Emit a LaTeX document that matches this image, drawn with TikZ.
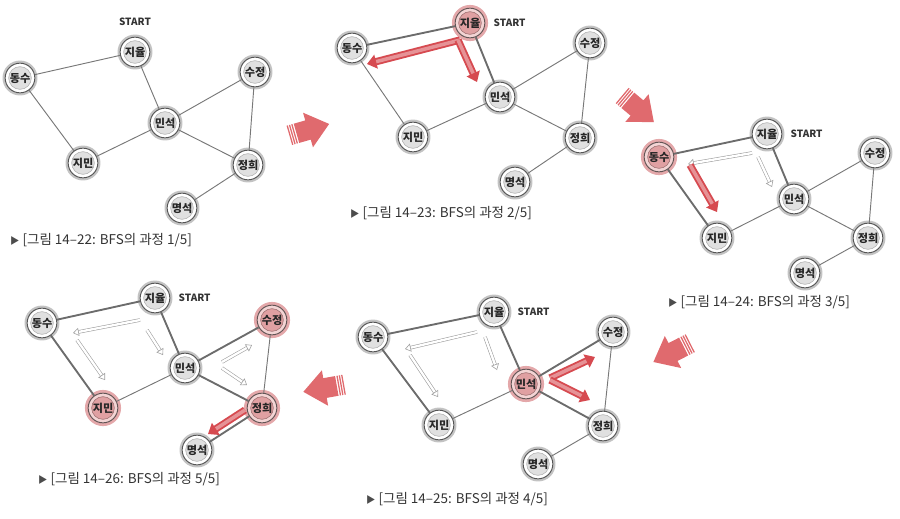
\documentclass[tikz,border=0pt]{standalone}
\usepackage{fontspec}
\setmainfont{Noto Sans CJK KR}
\usetikzlibrary{arrows.meta,calc,positioning}
\definecolor{ringgray}{RGB}{85,85,85}
\definecolor{halogray}{RGB}{195,195,195}
\definecolor{discgray}{RGB}{224,224,224}
\definecolor{discpink}{RGB}{224,160,162}
\definecolor{ringpink}{RGB}{243,212,212}
\definecolor{halopink}{RGB}{228,168,170}
\definecolor{linkgray}{RGB}{120,120,120}
\definecolor{walkred}{RGB}{214,74,80}
\definecolor{bigred}{RGB}{224,106,110}
\tikzset{
    person/.style={circle, draw=ringgray, line width=0.8pt, fill=white,
        minimum size=0.89cm, inner sep=0pt, text=black!85,
        font=\bfseries\fontsize{9.5}{10}\selectfont,
        disc=discgray, disc border=gray!60,
        preaction={draw=halogray, line width=4.5pt},
        path picture={\fill[\disccolor, draw=\discbordercolor, line width=0.5pt]
            (path picture bounding box.center) circle (0.34cm);}},
    disc/.store in=\disccolor,
    disc border/.store in=\discbordercolor,
    seen/.style={fill=ringpink, draw=ringpink!40!black, disc=discpink, disc border=discpink!70!black,
        preaction={draw=halopink, line width=5.5pt}},
    link/.style={draw=linkgray, line width=0.8pt},
    used/.style={draw=gray!85!black, line width=1.6pt},
    walk/.style={draw=walkred, double=walkred!60!white, line width=1.6pt, double distance=3pt,
        -{Triangle[length=8pt,width=12pt]}},
    trail/.style={draw=gray!75, double=white, line width=0.5pt, double distance=2pt,
        -{Triangle[open,length=5pt,width=7pt]}},
    startlabel/.style={font=\bfseries\fontsize{8.5}{9}\selectfont, text=black!80, inner sep=0pt},
    caption/.style={anchor=west, font=\fontsize{11.5}{12}\selectfont, text=black!80, inner sep=0pt},
    bigarrow/.pic={
        \fill[bigred] (-12,10) -- (0,10) -- (0,18) -- (22,0) -- (0,-18) -- (0,-10) -- (-12,-10) -- cycle;
        \foreach \k in {1,2,3}
            \fill[bigred] (-12.2-2.4*\k,10) rectangle ++(1.3,-20);
    }
}
\newcommand\tri{{\color{black!70}\fontsize{8}{9}\selectfont ▶}}
\begin{document}
\begin{tikzpicture}[x=0.03cm, y=-0.03cm]
    \useasboundingbox (0,0) rectangle (900,518);

    % 1/5
    \node[person] (a-jy) at (135,52) {지율};
    \node[person] (a-ds) at (20,78) {동수};
    \node[person] (a-sj) at (255,72) {수정};
    \node[person] (a-mn) at (165,123) {민석};
    \node[person] (a-jm) at (83,163) {지민};
    \node[person] (a-jh) at (248,165) {정희};
    \node[person] (a-my) at (182,208) {명석};
    \node[startlabel] (a-start) [above=9pt of a-jy] {START};
    \foreach \u/\v in {jy/ds,jy/mn,ds/jm,jm/mn,mn/sj,mn/jh,sj/jh,jh/my}
        \draw[link] (a-\u) -- (a-\v);
    \node[caption] (a-cap) at (10,240) {\tri\ [그림 14–22: BFS의 과정 1/5]};

    % 2/5
    \node[person,seen] (b-jy) at (470,23) {지율};
    \node[person] (b-ds) at (352,48) {동수};
    \node[person] (b-sj) at (590,43) {수정};
    \node[person] (b-mn) at (500,97) {민석};
    \node[person] (b-jm) at (413,137) {지민};
    \node[person] (b-jh) at (580,138) {정희};
    \node[person] (b-my) at (515,182) {명석};
    \node[startlabel,anchor=west] (b-start) [right=7pt of b-jy] {START};
    \foreach \u/\v/\s in {jy/ds/used,jy/mn/used,ds/jm/link,jm/mn/link,mn/sj/link,mn/jh/link,sj/jh/link,jh/my/link}
        \draw[\s] (b-\u) -- (b-\v);
    \draw[walk] ($(b-jy)+(-10,17)$) -- ($(b-ds)+(15,16)$);
    \draw[walk] ($(b-jy)+(-12,17)$) -- ($(b-mn)+(-23,-15)$);
    \node[caption] (b-cap) at (350,213) {\tri\ [그림 14–23: BFS의 과정 2/5]};

    % 3/5
    \node[person] (c-jy) at (767,134) {지율};
    \node[person,seen] (c-ds) at (659,157) {동수};
    \node[person] (c-sj) at (875,153) {수정};
    \node[person] (c-mn) at (794,199) {민석};
    \node[person] (c-jm) at (717,238) {지민};
    \node[person] (c-jh) at (868,238) {정희};
    \node[person] (c-my) at (805,273) {명석};
    \node[startlabel,anchor=west] (c-start) [right=7pt of c-jy] {START};
    \foreach \u/\v/\s in {jy/ds/used,jy/mn/used,ds/jm/used,jm/mn/link,mn/sj/link,mn/jh/link,sj/jh/link,jh/my/link}
        \draw[\s] (c-\u) -- (c-\v);
    \draw[trail] ($(c-jy)+(-15,19)$) -- ($(c-ds)+(29,7)$);
    \draw[trail] ($(c-jy)+(-9,23)$) -- ($(c-mn)+(-22,-12)$);
    \draw[walk] ($(c-ds)+(31,8)$) -- ($(c-jm)+(0,-26)$);
    \node[caption] (c-cap) at (668,302) {\tri\ [그림 14–24: BFS의 과정 3/5]};

    % 4/5
    \node[person] (e-jy) at (494,312) {지율};
    \node[person] (e-ds) at (373,337) {동수};
    \node[person] (e-sj) at (613,332) {수정};
    \node[person,seen] (e-mn) at (526,384) {민석};
    \node[person] (e-jm) at (439,425) {지민};
    \node[person] (e-jh) at (603,426) {정희};
    \node[person] (e-my) at (538,464) {명석};
    \node[startlabel,anchor=west] (e-start) [right=7pt of e-jy] {START};
    \foreach \u/\v/\s in {jy/ds/used,jy/mn/used,ds/jm/used,jm/mn/link,mn/sj/used,mn/jh/used,sj/jh/link,jh/my/link}
        \draw[\s] (e-\u) -- (e-\v);
    \draw[trail] ($(e-jy)+(-17,20)$) -- ($(e-ds)+(32,12)$);
    \draw[trail] ($(e-jy)+(-9,25)$) -- ($(e-mn)+(-29,-14)$);
    \draw[trail] ($(e-ds)+(37,18)$) -- ($(e-jm)+(-1,-28)$);
    \draw[walk] ($(e-mn)+(24,-6)$) -- ($(e-sj)+(-18,25)$);
    \draw[walk] ($(e-mn)+(24,-4)$) -- ($(e-jh)+(-13,-26)$);
    \node[caption] (e-cap) at (366,499) {\tri\ [그림 14–25: BFS의 과정 4/5]};

    % 5/5
    \node[person] (f-jy) at (155,298) {지율};
    \node[person] (f-ds) at (42,323) {동수};
    \node[person,seen] (f-sj) at (272,320) {수정};
    \node[person] (f-mn) at (185,368) {민석};
    \node[person,seen] (f-jm) at (103,408) {지민};
    \node[person,seen] (f-jh) at (262,408) {정희};
    \node[person] (f-my) at (197,450) {명석};
    \node[startlabel,anchor=west] (f-start) [right=7pt of f-jy] {START};
    \foreach \u/\v/\s in {jy/ds/used,jy/mn/used,ds/jm/used,jm/mn/link,mn/sj/used,mn/jh/used,sj/jh/link,jh/my/used}
        \draw[\s] (f-\u) -- (f-\v);
    \draw[trail] ($(f-jy)+(-15,22)$) -- ($(f-ds)+(31,10)$);
    \draw[trail] ($(f-jy)+(-8,32)$) -- ($(f-mn)+(-22,-13)$);
    \draw[trail] ($(f-ds)+(35,17)$) -- ($(f-jm)+(2,-28)$);
    \draw[trail] ($(f-mn)+(37,-6)$) -- ($(f-sj)+(-20,25)$);
    \draw[trail] ($(f-mn)+(37,0)$) -- ($(f-jh)+(-15,-23)$);
    \draw[walk] ($(f-jh)+(-17,2)$) -- ($(f-my)+(11,-16)$);
    \node[caption] (f-cap) at (38,479) {\tri\ [그림 14–26: BFS의 과정 5/5]};

    % big arrows between steps
    \pic (next1) [rotate=16] at (308,130) {bigarrow};
    \pic (next2) [rotate=-40] at (637,108) {bigarrow};
    \pic (next3) [rotate=207] at (673,352) {bigarrow};
    \pic (next4) [rotate=190] at (325,388) {bigarrow};
\end{tikzpicture}
\end{document}
